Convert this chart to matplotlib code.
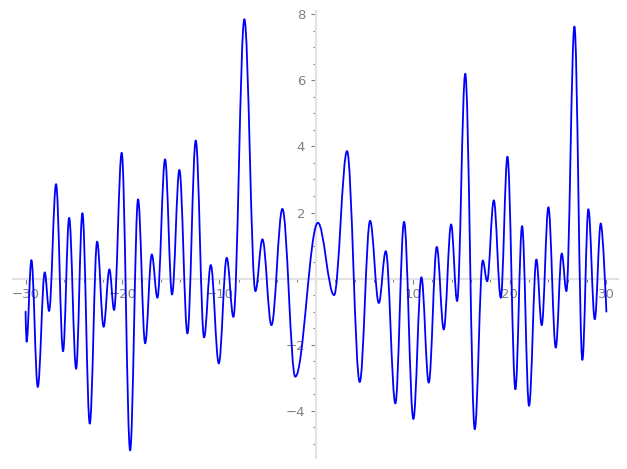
import numpy as np
import matplotlib
matplotlib.use('Agg')
import matplotlib.pyplot as plt
from matplotlib.path import Path
from matplotlib.patches import PathPatch
from matplotlib.ticker import MultipleLocator, FuncFormatter

# turning points of the curve, plus both ends
xs = [-30.0, -29.9, -29.4, -28.74, -28.02, -27.57, -26.85, -26.13, -25.5, -24.78,
      -24.13, -23.37, -22.61, -21.94, -21.34, -20.86, -20.07, -19.2, -18.38, -17.65,
      -16.96, -16.38, -15.59, -14.87, -14.11, -13.28, -12.42, -11.56, -10.87, -10.04,
      -9.22, -8.53, -7.4, -6.26, -5.53, -4.6, -3.47, -2.14, 0.2, 1.87,
      3.21, 4.52, 5.59, 6.49, 7.21, 8.2, 9.1, 10.06, 10.89, 11.65,
      12.48, 13.2, 13.96, 14.58, 15.42, 16.4, 17.23, 17.68, 18.37, 19.09,
      19.78, 20.6, 21.29, 22.01, 22.77, 23.32, 24.01, 24.77, 25.39, 25.87,
      26.7, 27.52, 28.14, 28.8, 29.42, 30.0]
ys = [-1.0, -1.91, 0.56, -3.28, 0.19, -0.98, 2.86, -2.20, 1.84, -2.73,
      1.98, -4.39, 1.12, -1.46, 0.28, -0.95, 3.81, -5.2, 2.40, -1.96,
      0.73, -0.58, 3.61, -0.48, 3.29, -1.66, 4.18, -1.78, 0.41, -2.57,
      0.63, -1.16, 7.85, -0.38, 1.19, -1.41, 2.11, -2.97, 1.69, -0.50,
      3.86, -3.13, 1.75, -0.74, 0.83, -3.78, 1.72, -4.25, 0.04, -3.15,
      0.96, -1.54, 1.64, -0.68, 6.20, -4.56, 0.55, -0.08, 2.37, -0.58,
      3.69, -3.35, 1.59, -3.85, 0.58, -1.41, 2.16, -2.09, 0.76, -0.38,
      7.63, -2.46, 2.10, -1.23, 1.67, -1.0]

fig = plt.figure(figsize=(6.27, 4.69), dpi=100)
ax = fig.add_axes([13/627, 11/469, 605/627, 447/469])
ax.set_xlim(-31.3, 31.2)
ax.set_ylim(-5.43, 8.1)

# smooth path: horizontal tangents at the turning points
k = 1 - 2/np.pi
verts = [(xs[0], ys[0])]
codes = [Path.MOVETO]
n = len(xs)
for i in range(n - 1):
    x0, y0, x1, y1 = xs[i], ys[i], xs[i+1], ys[i+1]
    d = (x1 - x0) * k
    c1 = (x0 + d, y0) if i > 0 else (x0, y0)
    c2 = (x1 - d, y1) if i < n - 2 else (x1, y1)
    verts += [c1, c2, (x1, y1)]
    codes += [Path.CURVE4] * 3
ax.add_patch(PathPatch(Path(verts, codes), fill=False, edgecolor='#0000ff',
                       lw=1.3, zorder=3, capstyle='round', joinstyle='round'))

for s in ['top', 'right']:
    ax.spines[s].set_visible(False)
for s in ['left', 'bottom']:
    ax.spines[s].set_position(('data', 0))
    ax.spines[s].set_color('#e2e2e2')
    ax.spines[s].set_linewidth(1.5)

def fmt(v, pos):
    if abs(v) < 1e-9:
        return ''
    return ('%g' % v).replace('-', '\u2212')

ax.xaxis.set_major_locator(MultipleLocator(10))
ax.xaxis.set_minor_locator(MultipleLocator(2))
ax.yaxis.set_major_locator(MultipleLocator(2))
ax.yaxis.set_minor_locator(MultipleLocator(0.5))
ax.xaxis.set_major_formatter(FuncFormatter(fmt))
ax.yaxis.set_major_formatter(FuncFormatter(fmt))
ax.tick_params(which='both', colors='#808080', labelcolor='#808080', labelsize=9.5, width=0.8)
ax.tick_params(which='major', length=3.4)
ax.tick_params(which='minor', length=2.2)
ax.tick_params(axis='x', pad=3.5)
ax.tick_params(axis='y', pad=4.5)
ax.patch.set_visible(False)

fig.savefig('out.png', dpi=100)
